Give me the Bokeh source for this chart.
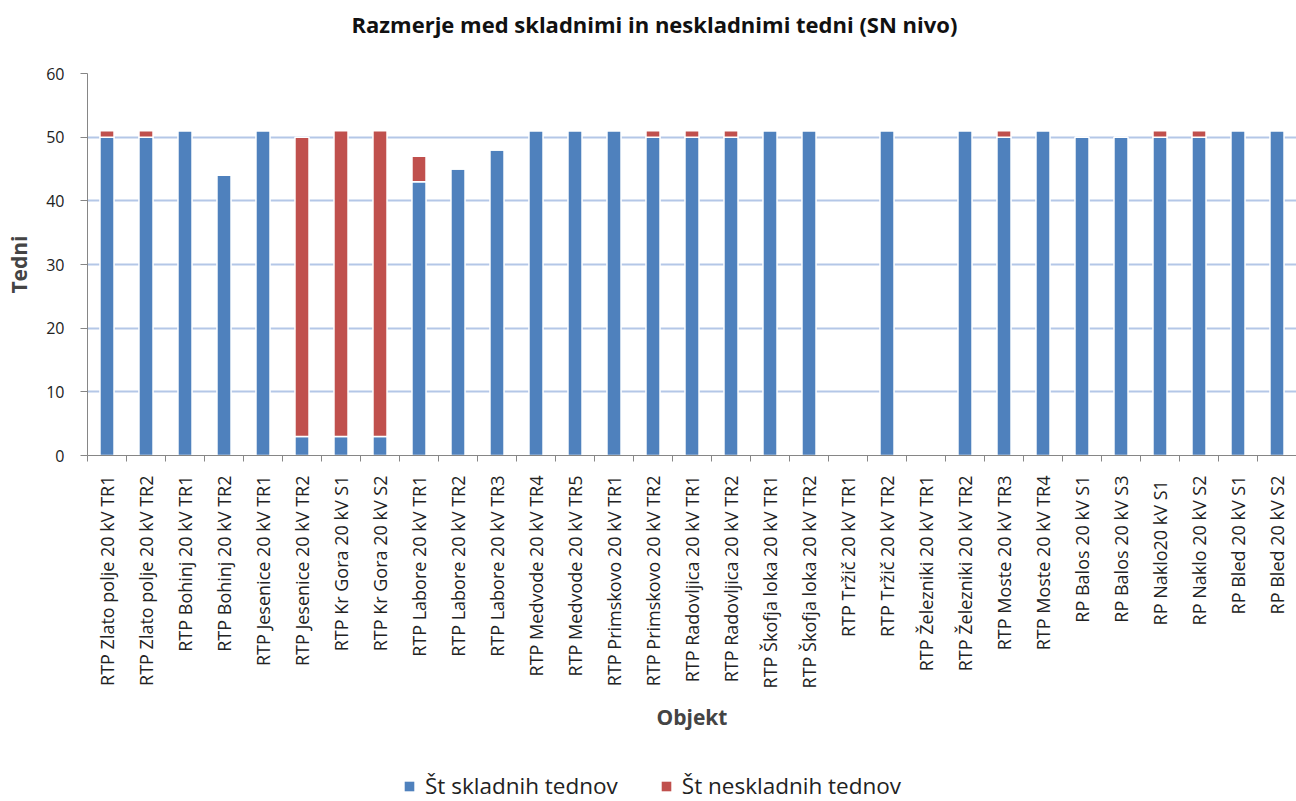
import math
from bokeh.plotting import figure
from bokeh.layouts import column
from bokeh.models import (FactorRange, Range1d, LinearAxis, CategoricalAxis, FixedTicker,
                          Legend, LegendItem, ColumnDataSource, Grid, Title)
from bokeh.embed import file_html
from bokeh.resources import INLINE

objekti = [
    "RTP Zlato polje 20 kV TR1", "RTP Zlato polje 20 kV TR2",
    "RTP Bohinj 20 kV TR1", "RTP Bohinj 20 kV TR2",
    "RTP Jesenice 20 kV TR1", "RTP Jesenice 20 kV TR2",
    "RTP Kr Gora 20 kV S1", "RTP Kr Gora 20 kV S2",
    "RTP Labore 20 kV TR1", "RTP Labore 20 kV TR2", "RTP Labore 20 kV TR3",
    "RTP Medvode 20 kV TR4", "RTP Medvode 20 kV TR5",
    "RTP Primskovo 20 kV TR1", "RTP Primskovo 20 kV TR2",
    "RTP Radovljica 20 kV TR1", "RTP Radovljica 20 kV TR2",
    "RTP Škofja loka 20 kV TR1", "RTP Škofja loka 20 kV TR2",
    "RTP Tržič 20 kV TR1", "RTP Tržič 20 kV TR2",
    "RTP Železniki 20 kV TR1", "RTP Železniki 20 kV TR2",
    "RTP Moste 20 kV TR3", "RTP Moste 20 kV TR4",
    "RP Balos 20 kV S1", "RP Balos 20 kV S3",
    "RP Naklo20 kV  S1", "RP Naklo 20 kV S2",
    "RP Bled 20 kV S1", "RP Bled 20 kV S2",
]
skladni = [50, 50, 51, 44, 51, 3, 3, 3, 43, 45, 48, 51, 51, 51, 50, 50, 50,
           51, 51, 0, 51, 0, 51, 50, 51, 50, 50, 50, 50, 51, 51]
neskladni = [1, 1, 0, 0, 0, 47, 48, 48, 4, 0, 0, 0, 0, 0, 1, 1, 1,
             0, 0, 0, 0, 0, 0, 1, 0, 0, 0, 1, 1, 0, 0]
y_ticks = [0, 10, 20, 30, 40, 50, 60]
series_labels = ["Št skladnih tednov", "Št neskladnih tednov"]

BLUE = "#4F81BD"
RED = "#C0504D"
FONT = "Open Sans"
AXIS_GRAY = "#868686"

src = ColumnDataSource(dict(objekt=objekti, skladni=skladni, neskladni=neskladni))

p = figure(width=1296, height=761, x_range=FactorRange(*objekti), y_range=Range1d(0, 60),
           output_backend="svg", toolbar_location=None, title=None,
           x_axis_location=None, y_axis_location=None,
           min_border_left=87, min_border_right=0, min_border_top=73, min_border_bottom=306)
p.outline_line_color = None
p.background_fill_color = "white"

p.center = [r for r in p.center if not isinstance(r, Grid)]
grid = Grid(dimension=1, ticker=FixedTicker(ticks=y_ticks),
            grid_line_color="#B4C7E7", grid_line_width=2)
p.add_layout(grid, "center")

yaxis = LinearAxis(ticker=FixedTicker(ticks=y_ticks), axis_label="Tedni",
                   axis_label_text_font_style="bold", axis_label_text_font_size="21px",
                   axis_label_text_font=FONT, axis_label_standoff=10,
                   major_label_text_font=FONT, major_label_text_font_size="16px",
                   major_label_text_color="#222222",
                   major_tick_out=7, major_tick_in=0, minor_tick_line_color=None,
                   axis_line_color=AXIS_GRAY, major_tick_line_color=AXIS_GRAY,
                   major_label_standoff=16)
p.add_layout(yaxis, "left")

# x tick axis: ticks at category boundaries (synthetic coordinates of the factor range)
boundaries = list(range(len(objekti) + 1))
tick_axis = LinearAxis(ticker=FixedTicker(ticks=boundaries),
                       major_label_overrides={b: "" for b in boundaries},
                       major_label_text_font_size="1px", major_label_standoff=0,
                       major_tick_out=6, major_tick_in=0, minor_tick_line_color=None,
                       axis_line_color=AXIS_GRAY, major_tick_line_color=AXIS_GRAY)
p.add_layout(tick_axis, "below")

label_axis = CategoricalAxis(major_tick_line_color=None, axis_line_color=None,
                             major_label_orientation=math.pi / 2,
                             major_label_text_font=FONT, major_label_text_font_size="18px",
                             major_label_text_color="#222222", major_label_standoff=8,
                             axis_label="Objekt", axis_label_text_font_style="bold",
                             axis_label_text_font_size="21px", axis_label_text_font=FONT,
                             axis_label_standoff=12)
p.add_layout(label_axis, "below")

p.vbar_stack(["skladni", "neskladni"], x="objekt", width=0.36, color=[BLUE, RED],
             line_color="white", line_width=1.5, source=src)

# spacer between frame and title, then the title itself (outermost)
spacer = Title(text=" ", text_font_size="1px", standoff=27)
p.add_layout(spacer, "above")
title = Title(text="Razmerje med skladnimi in neskladnimi tedni (SN nivo)",
              align="left", offset=264, standoff=10, vertical_align="bottom",
              text_font=FONT, text_font_size="22px", text_font_style="bold",
              text_color="#111111")
p.add_layout(title, "above")

# legend strip below the chart (same data, bars fall outside its visible y-range)
lg = figure(width=1296, height=40, output_backend="svg", toolbar_location=None, title=None,
            x_axis_location=None, y_axis_location=None,
            min_border=0, min_border_left=0, min_border_right=0,
            min_border_top=0, min_border_bottom=0,
            x_range=FactorRange(*objekti), y_range=Range1d(200, 201))
lg.outline_line_color = None
lg.center = [r for r in lg.center if not isinstance(r, Grid)]
lrs = lg.vbar_stack(["skladni", "neskladni"], x="objekt", width=0.36, color=[BLUE, RED],
                    line_color=None, source=src)
legend = Legend(items=[LegendItem(label=series_labels[0], renderers=[lrs[0]]),
                       LegendItem(label=series_labels[1], renderers=[lrs[1]])],
                orientation="horizontal", location=(316, 0),
                border_line_color=None, background_fill_alpha=0,
                label_text_font=FONT, label_text_font_size="22.5px",
                label_text_color="#222222",
                glyph_width=12, glyph_height=12, label_standoff=10, spacing=42,
                padding=0, margin=0)
lg.add_layout(legend, "center")

layout = column(p, lg, spacing=0)
open("out.html", "w").write(file_html(layout, INLINE))
